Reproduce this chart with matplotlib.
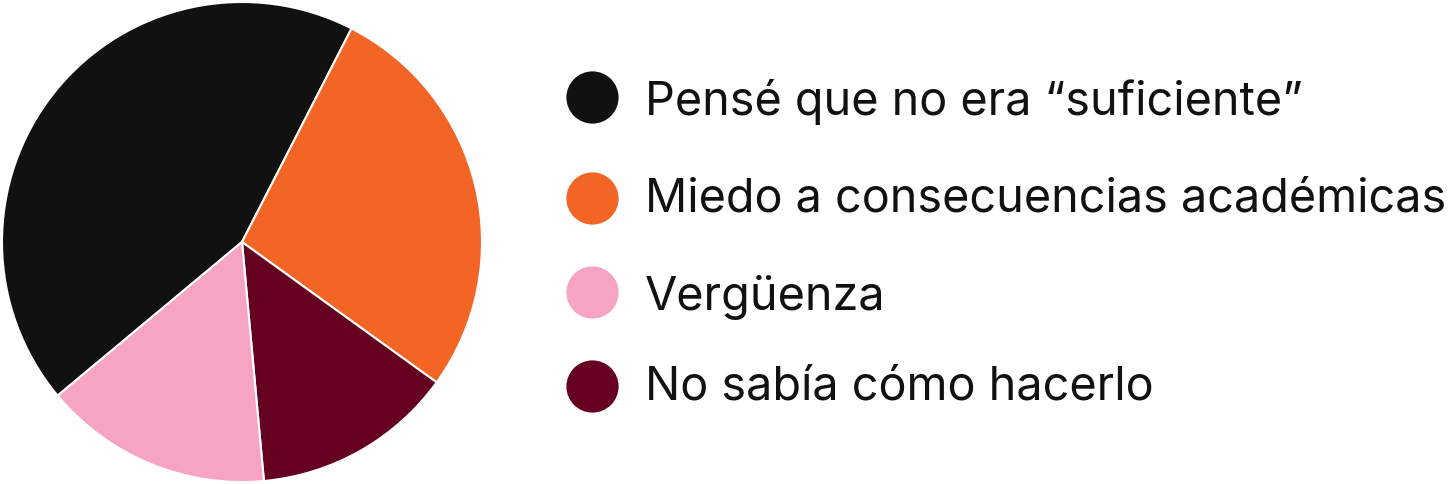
import matplotlib
matplotlib.use("Agg")
import matplotlib.pyplot as plt
from matplotlib.lines import Line2D

plt.rcParams['font.family'] = ['Inter', 'DejaVu Sans']

# data (share of answers, %)
labels = ['Pensé que no era “suficiente”', 'Miedo a consecuencias académicas',
          'Vergüenza', 'No sabía cómo hacerlo']
values = [43.6, 27.4, 15.4, 13.6]
colors = ['#111111', '#F26524', '#F7A3C4', '#650021']

# pie is drawn clockwise: black, orange, dark red, pink
pie_order = [0, 1, 3, 2]

W, H = 1449, 484
fig = plt.figure(figsize=(W / 100, H / 100), dpi=100)

ax = fig.add_axes([0, 0, H / W, 1])
ax.pie([values[i] for i in pie_order], colors=[colors[i] for i in pie_order],
       startangle=219.8, counterclock=False, radius=1,
       wedgeprops=dict(edgecolor='white', linewidth=1.5))
lim = 242 / 240
ax.set_xlim(-lim, lim)
ax.set_ylim(-lim, lim)
ax.set_aspect('equal')
ax.axis('off')

# legend, drawn by hand (pixel positions from top)
dot_y = [97.2, 198.0, 292.2, 386.3]
base_y = [115.0, 211.5, 310.0, 399.3]
for lab, col, y, b in zip(labels, colors, dot_y, base_y):
    fig.add_artist(Line2D([591.7 / W], [1 - y / H], marker='o', markersize=37.6,
                          color=col, markeredgewidth=0, linestyle='none',
                          transform=fig.transFigure))
    fig.text(645 / W, 1 - b / H, lab, fontsize=33.7, color='#111111',
             va='baseline', ha='left')

fig.savefig('out.png', dpi=100)
